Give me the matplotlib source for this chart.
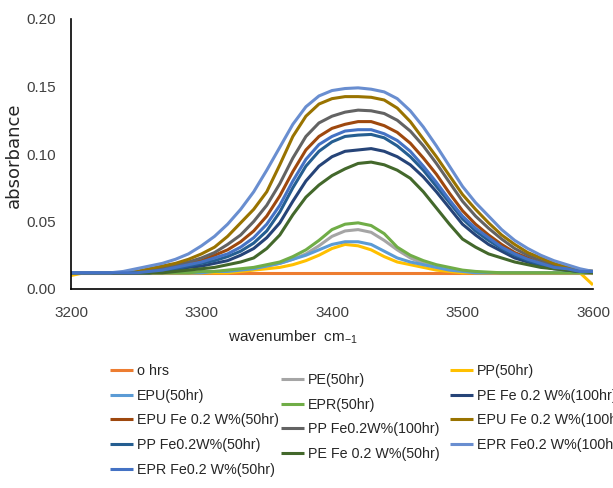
import matplotlib
matplotlib.use('Agg')
import matplotlib.pyplot as plt

plt.rcParams['font.family'] = ['Liberation Sans', 'DejaVu Sans']

wavenumber = list(range(3200, 3610, 10))

o_hrs = [0.012, 0.012, 0.012, 0.012, 0.012, 0.012, 0.012, 0.012, 0.012, 0.012, 0.012,
         0.012, 0.012, 0.012, 0.012, 0.012, 0.012, 0.012, 0.012, 0.012, 0.012,
         0.012, 0.012, 0.012, 0.012, 0.012, 0.012, 0.012, 0.012, 0.012, 0.012,
         0.012, 0.012, 0.012, 0.012, 0.012, 0.012, 0.012, 0.012, 0.012, 0.012]
pe_50 = [0.012, 0.012, 0.012, 0.012, 0.012, 0.012, 0.012, 0.012, 0.012, 0.012, 0.012,
         0.013, 0.013, 0.014, 0.015, 0.017, 0.019, 0.022, 0.026, 0.032, 0.039,
         0.043, 0.044, 0.042, 0.036, 0.029, 0.023, 0.019, 0.016, 0.014, 0.013,
         0.012, 0.012, 0.012, 0.012, 0.012, 0.012, 0.012, 0.012, 0.012, 0.012]
pp_50 = [0.010, 0.012, 0.012, 0.012, 0.012, 0.012, 0.012, 0.012, 0.012, 0.012, 0.012,
         0.012, 0.012, 0.013, 0.014, 0.015, 0.016, 0.018, 0.021, 0.025, 0.030,
         0.033, 0.032, 0.029, 0.024, 0.020, 0.018, 0.016, 0.014, 0.013, 0.012,
         0.012, 0.012, 0.012, 0.012, 0.012, 0.012, 0.012, 0.012, 0.012, 0.003]
epu_50 = [0.012, 0.012, 0.012, 0.012, 0.012, 0.012, 0.012, 0.012, 0.012, 0.012, 0.012,
          0.013, 0.013, 0.014, 0.015, 0.017, 0.019, 0.022, 0.025, 0.029, 0.033,
          0.035, 0.035, 0.033, 0.028, 0.023, 0.020, 0.018, 0.016, 0.014, 0.013,
          0.012, 0.012, 0.012, 0.012, 0.012, 0.012, 0.012, 0.012, 0.012, 0.012]
epr_50 = [0.012, 0.012, 0.012, 0.012, 0.012, 0.012, 0.012, 0.012, 0.012, 0.012, 0.013,
          0.013, 0.014, 0.015, 0.016, 0.018, 0.020, 0.024, 0.029, 0.036, 0.044,
          0.048, 0.049, 0.047, 0.041, 0.031, 0.025, 0.021, 0.018, 0.016, 0.014,
          0.013, 0.0125, 0.012, 0.012, 0.012, 0.012, 0.012, 0.012, 0.012, 0.012]
pe_fe_100 = [0.012, 0.012, 0.012, 0.012, 0.012, 0.012, 0.012, 0.013, 0.014, 0.016, 0.017,
             0.019, 0.021, 0.025, 0.030, 0.038, 0.049, 0.065, 0.080, 0.091, 0.098,
             0.102, 0.103, 0.104, 0.102, 0.098, 0.092, 0.083, 0.072, 0.060, 0.048,
             0.040, 0.033, 0.028, 0.023, 0.020, 0.017, 0.015, 0.014, 0.013, 0.013]
epu_fe_50 = [0.012, 0.012, 0.012, 0.012, 0.012, 0.012, 0.013, 0.015, 0.017, 0.019, 0.021,
             0.025, 0.029, 0.035, 0.043, 0.054, 0.069, 0.087, 0.103, 0.113, 0.119,
             0.122, 0.124, 0.124, 0.121, 0.116, 0.108, 0.097, 0.085, 0.071, 0.058,
             0.048, 0.040, 0.033, 0.027, 0.023, 0.019, 0.017, 0.015, 0.013, 0.013]
pp_fe_100 = [0.012, 0.012, 0.012, 0.012, 0.012, 0.012, 0.014, 0.016, 0.018, 0.020, 0.023,
             0.027, 0.033, 0.040, 0.050, 0.062, 0.078, 0.097, 0.113, 0.123, 0.128,
             0.131, 0.1325, 0.132, 0.130, 0.125, 0.117, 0.106, 0.093, 0.079, 0.065,
             0.054, 0.045, 0.037, 0.030, 0.025, 0.021, 0.018, 0.016, 0.014, 0.013]
epu_fe_100 = [0.012, 0.012, 0.012, 0.012, 0.012, 0.013, 0.015, 0.017, 0.019, 0.022, 0.026,
              0.031, 0.039, 0.049, 0.059, 0.072, 0.092, 0.113, 0.128, 0.137, 0.141,
              0.1425, 0.1425, 0.142, 0.140, 0.134, 0.124, 0.111, 0.098, 0.084, 0.070,
              0.059, 0.049, 0.040, 0.033, 0.027, 0.023, 0.019, 0.016, 0.014, 0.013]
pp_fe_50 = [0.012, 0.012, 0.012, 0.012, 0.012, 0.012, 0.012, 0.013, 0.015, 0.017, 0.019,
            0.021, 0.024, 0.028, 0.034, 0.043, 0.057, 0.075, 0.091, 0.102, 0.109,
            0.113, 0.114, 0.1145, 0.112, 0.106, 0.098, 0.088, 0.076, 0.064, 0.052,
            0.043, 0.036, 0.030, 0.025, 0.021, 0.018, 0.016, 0.014, 0.013, 0.013]
pe_fe_50 = [0.012, 0.012, 0.012, 0.012, 0.012, 0.012, 0.012, 0.012, 0.013, 0.014, 0.015,
            0.016, 0.018, 0.020, 0.023, 0.030, 0.040, 0.055, 0.068, 0.077, 0.084,
            0.089, 0.093, 0.094, 0.092, 0.088, 0.082, 0.072, 0.060, 0.048, 0.037,
            0.031, 0.026, 0.023, 0.020, 0.018, 0.016, 0.015, 0.014, 0.013, 0.012]
epr_fe_100 = [0.012, 0.012, 0.012, 0.012, 0.013, 0.015, 0.017, 0.019, 0.022, 0.026, 0.032,
              0.039, 0.048, 0.059, 0.072, 0.088, 0.105, 0.122, 0.135, 0.143, 0.147,
              0.1485, 0.149, 0.148, 0.146, 0.141, 0.132, 0.120, 0.106, 0.091, 0.076,
              0.064, 0.054, 0.044, 0.036, 0.030, 0.025, 0.021, 0.018, 0.015, 0.013]
epr_fe_50 = [0.012, 0.012, 0.012, 0.012, 0.012, 0.012, 0.013, 0.014, 0.016, 0.018, 0.020,
             0.023, 0.026, 0.031, 0.038, 0.048, 0.062, 0.080, 0.096, 0.107, 0.113,
             0.117, 0.118, 0.118, 0.115, 0.110, 0.102, 0.091, 0.079, 0.066, 0.054,
             0.045, 0.038, 0.031, 0.026, 0.022, 0.019, 0.016, 0.015, 0.013, 0.013]

# drawing order = series order of the original sheet
series = [
    ('o hrs', o_hrs, '#ED7D31'),
    ('PE(50hr)', pe_50, '#A5A5A5'),
    ('PP(50hr)', pp_50, '#FFC000'),
    ('EPU(50hr)', epu_50, '#5B9BD5'),
    ('EPR(50hr)', epr_50, '#70AD47'),
    ('PE Fe 0.2 W%(100hr)', pe_fe_100, '#264478'),
    ('EPU Fe 0.2 W%(50hr)', epu_fe_50, '#9E480E'),
    ('PP Fe0.2W%(100hr)', pp_fe_100, '#636363'),
    ('EPU Fe 0.2 W%(100hr)', epu_fe_100, '#997300'),
    ('PP Fe0.2W%(50hr)', pp_fe_50, '#255E91'),
    ('PE Fe 0.2 W%(50hr)', pe_fe_50, '#43682B'),
    ('EPR Fe0.2 W%(100hr)', epr_fe_100, '#698ED0'),
    ('EPR Fe0.2 W%(50hr)', epr_fe_50, '#4472C4'),
]

fig = plt.figure(figsize=(6.13, 4.88), dpi=100)
ax = fig.add_axes([71 / 613, 1 - 289 / 488, 522 / 613, 270 / 488])

lines = {}
for name, values, color in series:
    line, = ax.plot(wavenumber, values, color=color, linewidth=2.2, label=name,
                    solid_joinstyle='round', solid_capstyle='butt')
    lines[name] = line

ax.set_xlim(3200, 3600)
ax.set_ylim(0, 0.20)
ax.set_xticks([3200, 3300, 3400, 3500, 3600])
ax.set_yticks([0.00, 0.05, 0.10, 0.15, 0.20])
ax.set_yticklabels(['0.00', '0.05', '0.10', '0.15', '0.20'])
ax.tick_params(axis='both', length=0, labelsize=11, colors='#404040')
ax.tick_params(axis='x', pad=12)
ax.tick_params(axis='y', pad=11)
for side in ['top', 'right']:
    ax.spines[side].set_visible(False)
for side in ['left', 'bottom']:
    ax.spines[side].set_color('black')
    ax.spines[side].set_linewidth(1.2)

ax.set_xlabel('wavenumber  cm$_{\\mathregular{-1}}$', fontsize=11, color='#262626')
ax.xaxis.label.set_va('center')
ax.xaxis.set_label_coords((293 - 71) / 522, (289 - 337) / 270)
ax.set_ylabel('absorbance', fontsize=13, color='#262626', family='DejaVu Sans')
ax.yaxis.label.set_va('center')
ax.yaxis.set_label_coords((14 - 71) / 522, (289 - 155) / 270)

columns = [
    (['o hrs', 'EPU(50hr)', 'EPU Fe 0.2 W%(50hr)', 'PP Fe0.2W%(50hr)', 'EPR Fe0.2 W%(50hr)'], 110, 364),
    (['PE(50hr)', 'EPR(50hr)', 'PP Fe0.2W%(100hr)', 'PE Fe 0.2 W%(50hr)'], 281, 373),
    (['PP(50hr)', 'PE Fe 0.2 W%(100hr)', 'EPU Fe 0.2 W%(100hr)', 'EPR Fe0.2 W%(100hr)'], 450, 364),
]
for names, x0, y0 in columns:
    fig.legend([lines[n] for n in names], names, loc='upper left',
               bbox_to_anchor=(x0 / 613, 1 - y0 / 488), frameon=False,
               fontsize=10.3, handlelength=1.6, handletextpad=0.3,
               labelspacing=0.75, borderpad=0, borderaxespad=0,
               labelcolor='#262626')

fig.savefig('out.png', dpi=100)
